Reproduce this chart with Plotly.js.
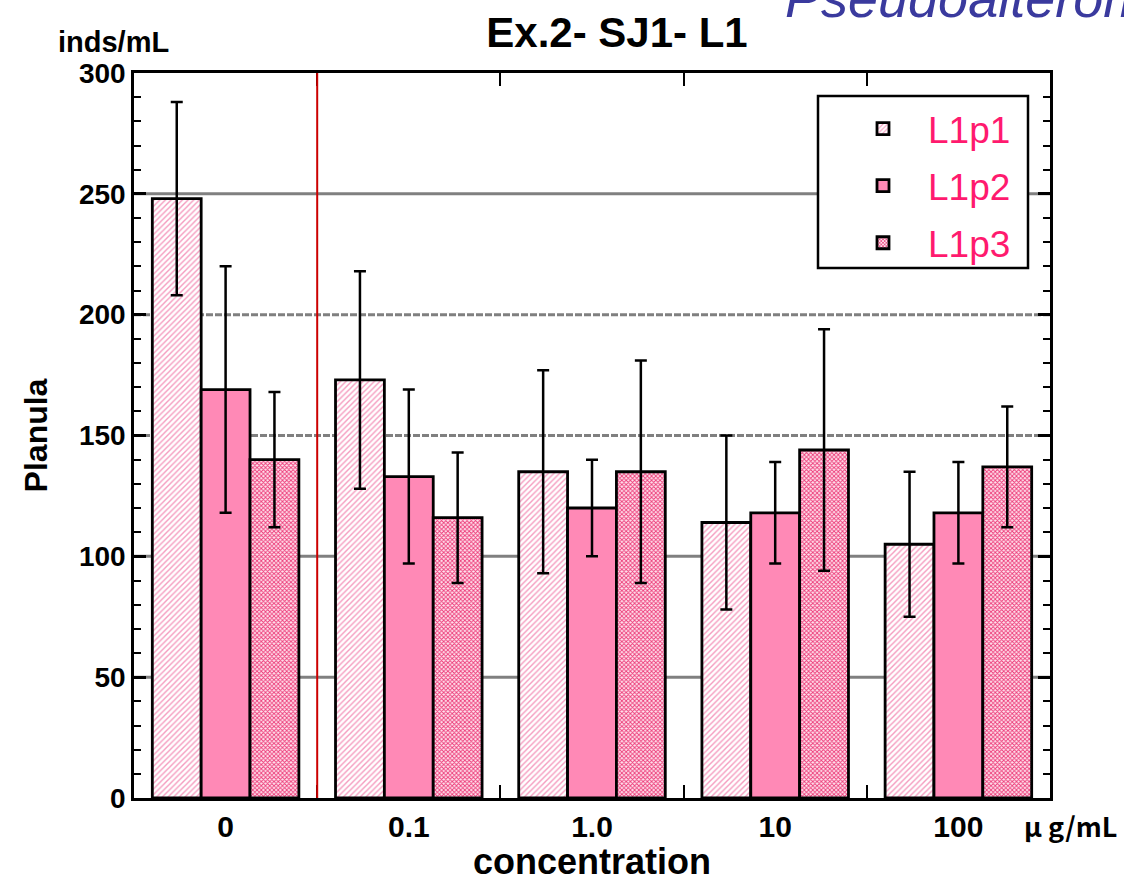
<!DOCTYPE html>
<html>
<head>
<meta charset="utf-8">
<script src="https://cdn.plot.ly/plotly-3.0.1.min.js"></script>
<style>body{margin:0;padding:0;background:#fff;}#chart{width:1124px;height:882px;}</style>
</head>
<body>
<div id="chart"></div>
<script>
const categories = ["0", "0.1", "1.0", "10", "100"];
const seriesNames = ["L1p1", "L1p2", "L1p3"];
const L1p1 = [248, 173, 135, 114, 105];
const L1p1Err = [40, 45, 42, 36, 30];
const L1p2 = [169, 133, 120, 118, 118];
const L1p2Err = [51, 36, 20, 21, 21];
const L1p3 = [140, 116, 135, 144, 137];
const L1p3Err = [28, 27, 46, 50, 25];
const yTicks = [0, 50, 100, 150, 200, 250, 300];
const solidGrid = [50, 100, 250];
const dashedGrid = [150, 200];

const W = 1124, H = 882;
const M = {l: 134, r: 74, t: 73, b: 84};
const pw = W - M.l - M.r, ph = H - M.t - M.b;
const px = x => (x - M.l) / pw;
const py = y => (H - M.b - y) / ph;

const errStyle = arr => ({type: 'data', array: arr, visible: true, color: '#000', thickness: 2.5, width: 6});
const line = {color: '#000', width: 2.8};

const traces = [
  {type: 'bar', name: seriesNames[0], x: categories, y: L1p1, error_y: errStyle(L1p1Err), legendgroup: 'a',
   marker: {color: '#ffffff', line: line, pattern: {shape: '/', fgcolor: '#f59cbf', bgcolor: '#ffffff', size: 4, solidity: 0.35}}},
  {type: 'bar', name: seriesNames[1], x: categories, y: L1p2, error_y: errStyle(L1p2Err), legendgroup: 'b',
   marker: {color: '#ff89b6', line: line}},
  {type: 'bar', name: seriesNames[2], x: categories, y: L1p3, error_y: errStyle(L1p3Err), legendgroup: 'c',
   marker: {color: '#ffffff', line: line, pattern: {shape: 'x', fgcolor: '#ec3a78', bgcolor: '#ffe4ee', size: 3, solidity: 0.5}}}
];

const shapes = [];
solidGrid.forEach(v => shapes.push({type: 'line', xref: 'paper', yref: 'y', x0: 0, x1: 1, y0: v, y1: v, layer: 'below', line: {color: '#808080', width: 3}}));
dashedGrid.forEach(v => shapes.push({type: 'line', xref: 'paper', yref: 'y', x0: 0, x1: 1, y0: v, y1: v, layer: 'below', line: {color: '#808080', width: 3, dash: '7px,2px'}}));
shapes.push({type: 'line', xref: 'x', yref: 'paper', x0: 0.5, x1: 0.5, y0: 0, y1: 1, line: {color: '#cc0000', width: 2}});
shapes.push({type: 'rect', xref: 'paper', yref: 'paper', x0: px(818), x1: px(1028), y0: py(96), y1: py(268), line: {color: '#000', width: 2.5}, fillcolor: 'rgba(255,255,255,1)', layer: 'below'});

const bold = 'Liberation Sans, Arial, sans-serif';
const layout = {
  width: W, height: H,
  margin: M,
  paper_bgcolor: '#fff', plot_bgcolor: 'rgba(0,0,0,0)',
  barmode: 'group', bargap: 0.2, bargroupgap: 0,
  showlegend: true,
  title: {text: '<b>Ex.2- SJ1- L1</b>', x: 617 / W, xanchor: 'center', y: 1 - 32 / H, yanchor: 'middle', xref: 'container', yref: 'container',
          font: {family: 'Liberation Sans Narrow, Arial Narrow, Liberation Sans, sans-serif', size: 42, color: '#000'}},
  legend: {x: px(838), y: py(98), xanchor: 'left', yanchor: 'top', bgcolor: 'rgba(0,0,0,0)', borderwidth: 0,
           font: {family: 'Liberation Sans, Arial, sans-serif', size: 37, color: '#ff1a6e'}, itemwidth: 80, tracegroupgap: 6},
  xaxis: {type: 'category', range: [-0.5, 4.5], showline: true, linecolor: '#000', linewidth: 2.5, mirror: 'ticks',
          ticks: 'inside', tickson: 'boundaries', ticklen: 13, tickwidth: 2, tickcolor: '#000', showgrid: false, zeroline: false,
          tickfont: {family: bold, size: 30, color: '#000', weight: 'bold'},
          title: {text: '<b>concentration</b>', standoff: 14, font: {family: bold, size: 36, color: '#000'}}},
  yaxis: {range: [0, 300], tickvals: yTicks, showline: true, linecolor: '#000', linewidth: 2.5, mirror: 'ticks',
          ticks: 'inside', ticklen: 12, tickwidth: 2.5, tickcolor: '#000', showgrid: false, zeroline: false,
          minor: {dtick: 10, ticks: 'inside', ticklen: 7, tickwidth: 2, tickcolor: '#000', showgrid: false},
          tickfont: {family: bold, size: 28, color: '#000', weight: 'bold'},
          title: {text: '<b>Planula</b>', standoff: 22, font: {family: bold, size: 32, color: '#000'}}},
  shapes: shapes,
  annotations: [
    {text: '<b>inds/mL</b>', xref: 'paper', yref: 'paper', x: px(113), y: py(42), xanchor: 'center', yanchor: 'middle', showarrow: false,
     font: {family: bold, size: 29, color: '#000'}},
    {text: '<b>μ g/mL</b>', xref: 'paper', yref: 'paper', x: px(1022), y: py(825), xanchor: 'left', yanchor: 'middle', showarrow: false,
     font: {family: 'Noto Sans CJK JP, sans-serif', size: 27, color: '#000'}},
    {text: '<i>Pseudoalteromonas</i>', xref: 'paper', yref: 'paper', x: px(783), y: py(-2), xanchor: 'left', yanchor: 'middle', showarrow: false,
     font: {family: 'Liberation Sans, Arial, sans-serif', size: 54, color: '#3a3a9e'}}
  ]
};

Plotly.newPlot('chart', traces, layout, {displayModeBar: false, responsive: false});
</script>
</body>
</html>
